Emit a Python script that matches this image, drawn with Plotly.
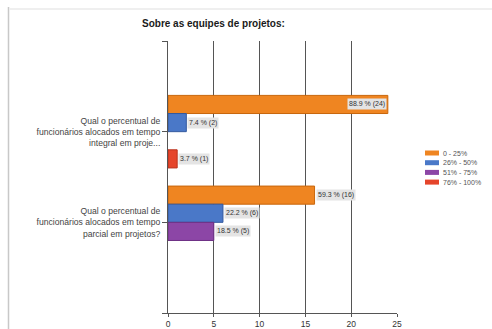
import plotly.graph_objects as go

# ---- data -------------------------------------------------------------
questions = [
    "Qual o percentual de<br>funcionários alocados em tempo<br>integral em proje...",
    "Qual o percentual de<br>funcionários alocados em tempo<br>parcial em projetos?",
]
series_names = ["0 - 25%", "26% - 50%", "51% - 75%", "76% - 100%"]
counts = [
    [24, 16],   # 0 - 25%
    [2, 6],     # 26% - 50%
    [0, 5],     # 51% - 75%
    [1, 0],     # 76% - 100%
]
percents = [
    [88.9, 59.3],
    [7.4, 22.2],
    [0.0, 18.5],
    [3.7, 0.0],
]
x_ticks = [0, 5, 10, 15, 20, 25]

# ---- styling ----------------------------------------------------------
colors = ["#ef8521", "#4a78c8", "#8c46a6", "#e5452b"]
edges = ["#c8660c", "#33599f", "#6c2f84", "#b9301a"]
W, H = 492, 329
L, R, T, B = 168, 397, 41, 313          # plot area in pixels
FONT = "Liberation Sans, Arial, sans-serif"
BARGAP = 0.2


def px_x(px):
    return (px - L) / (R - L)


def px_y(py):
    return (B - py) / (B - T)


fig = go.Figure()
positions = list(range(len(questions)))
for name, vals, col, edge in zip(series_names, counts, colors, edges):
    fig.add_trace(go.Bar(
        y=positions, x=vals, name=name, orientation="h",
        marker=dict(color=col,
                    line=dict(color=edge, width=[1 if v > 0 else 0 for v in vals])),
        hoverinfo="skip", showlegend=False,
    ))

# value labels next to / inside each bar
n = len(series_names)
slot = (1 - BARGAP) / n
annotations = []
for i, (vals, pcts) in enumerate(zip(counts, percents)):
    for j, (v, p) in enumerate(zip(vals, pcts)):
        if v <= 0:
            continue
        yc = j - (1 - BARGAP) / 2 + slot * (i + 0.5)
        inside = v > x_ticks[-1] - 5
        annotations.append(dict(
            x=v, y=yc, xref="x", yref="y",
            text=f"{p:.1f} % ({v})", showarrow=False,
            xanchor="right" if inside else "left",
            xshift=-1 if inside else 1, yanchor="middle",
            font=dict(family=FONT, size=7, color="#333"),
            bgcolor="#e4e4e4", borderpad=1,
        ))

# title
annotations.append(dict(
    x=px_x(213.5), y=px_y(23), xref="paper", yref="paper",
    text="<b>Sobre as equipes de projetos:</b>", showarrow=False,
    xanchor="center", yanchor="middle",
    font=dict(family=FONT, size=10, color="#1a1a1a"),
))

# legend (compact, drawn with shapes + text)
shapes = []
leg_top, leg_step = 153, 9.7
for k, (name, col) in enumerate(zip(series_names, colors)):
    cy = leg_top + k * leg_step
    shapes.append(dict(
        type="rect", xref="paper", yref="paper",
        x0=px_x(425), x1=px_x(439), y0=px_y(cy + 2.5), y1=px_y(cy - 2.5),
        fillcolor=col, line=dict(width=0),
    ))
    annotations.append(dict(
        x=px_x(441), y=px_y(cy), xref="paper", yref="paper",
        text=name, showarrow=False, xanchor="left", yanchor="middle",
        font=dict(family=FONT, size=7, color="#555"),
    ))

# page frame lines
shapes.append(dict(type="line", xref="paper", yref="paper",
                   x0=px_x(8.5), x1=px_x(8.5), y0=px_y(7), y1=px_y(329),
                   line=dict(color="#c8c8c8", width=1.5)))
shapes.append(dict(type="line", xref="paper", yref="paper",
                   x0=px_x(9), x1=px_x(492), y0=px_y(9), y1=px_y(9),
                   line=dict(color="#efefef", width=2)))

fig.update_layout(
    width=W, height=H, autosize=False,
    margin=dict(l=L, r=W - R, t=T, b=H - B, pad=0, autoexpand=False),
    paper_bgcolor="white", plot_bgcolor="white",
    barmode="group", bargap=BARGAP, bargroupgap=0,
    showlegend=False,
    annotations=annotations, shapes=shapes,
    font=dict(family=FONT),
)
fig.update_xaxes(
    range=[x_ticks[0], x_ticks[-1]], tickvals=x_ticks, automargin=False,
    showgrid=True, gridcolor="#555", gridwidth=1, zeroline=False,
    showline=True, linecolor="#555", linewidth=1,
    ticks="outside", ticklen=3, tickcolor="#555",
    tickfont=dict(family=FONT, size=8.5, color="#333"),
)
fig.update_yaxes(
    range=[len(questions), -1], automargin=False,
    tickvals=[-1] + positions + [len(questions)],
    ticktext=[""] + questions + [""],
    showgrid=False, zeroline=False,
    showline=True, linecolor="#555", linewidth=1,
    ticks="outside", ticklen=5, tickcolor="#555",
    tickfont=dict(family=FONT, size=8.6, color="#444"),
)

fig.write_html("out.html")
